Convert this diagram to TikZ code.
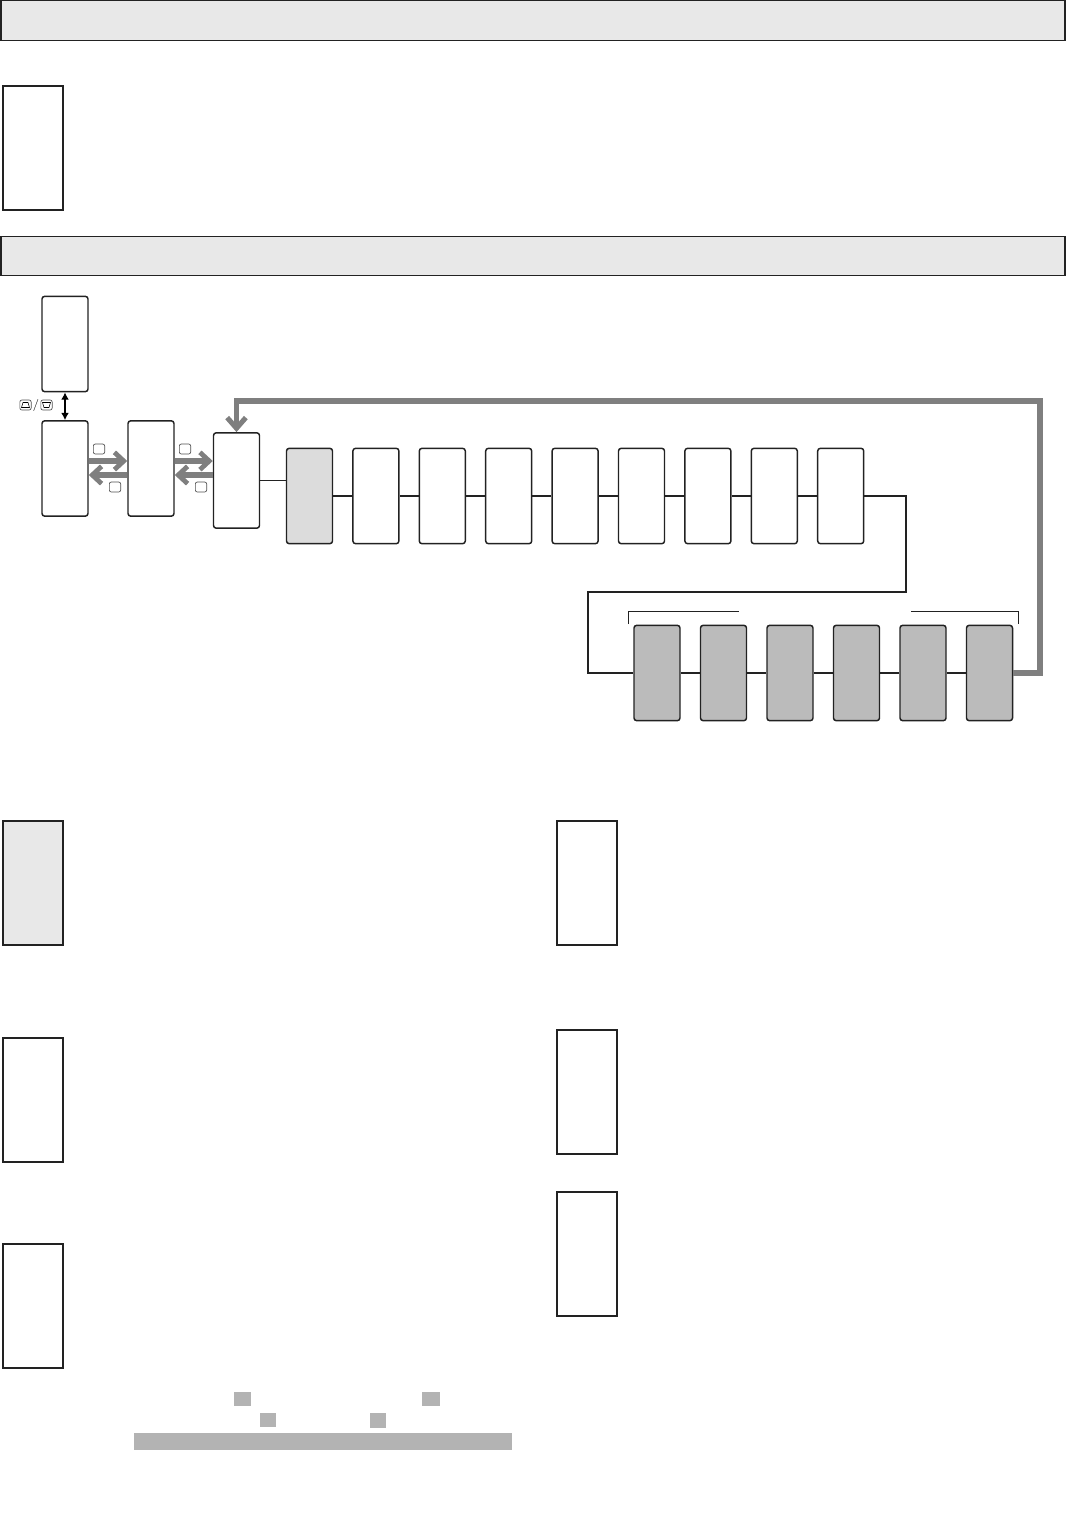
\documentclass[tikz,border=0pt]{standalone}
\usetikzlibrary{arrows.meta,calc}
\definecolor{hdrgray}{HTML}{E8E8E8}
\definecolor{lightfill}{HTML}{DCDCDC}
\definecolor{midfill}{HTML}{BBBBBB}
\definecolor{arrgray}{HTML}{7F7F7F}
\definecolor{bargray}{HTML}{B3B3B3}
\definecolor{edge}{HTML}{222222}
\begin{document}
\begin{tikzpicture}[x=0.75pt,y=-0.75pt,
  hdrbar/.style={draw=edge,line width=0.9pt,fill=hdrgray,minimum width=798pt,minimum height=29.5pt,inner sep=0pt},
  panel/.style={draw=edge,line width=1.5pt,minimum width=45pt,minimum height=93pt,inner sep=0pt},
  dev/.style={draw=edge,line width=1.1pt,rounded corners=2pt,minimum width=34.5pt,minimum height=71.5pt,inner sep=0pt,fill=white},
  key/.style={draw=edge!80,line width=0.5pt,rounded corners=1.5pt,minimum width=8.5pt,minimum height=7.5pt,inner sep=0pt},
  wire/.style={draw=edge,line width=1pt},
  thin/.style={draw=edge,line width=0.7pt},
  garrow/.style={draw=arrgray,line width=4pt,-{Straight Barb[length=7pt,width=13pt,line width=3.6pt]}},
  bigloop/.style={draw=arrgray,line width=4.3pt,miter limit=10,-{Straight Barb[length=8pt,width=14pt,line width=3.8pt]}},
  grayblock/.style={fill=bargray}
]
\useasboundingbox (0,0) rectangle (1066,1526);
% headers
\node[hdrbar] (h1) at (533,20.5) {};
\node[hdrbar] (h2) at (533,256) {};
% top panel
\node[panel] (p0) at (32.5,148.5) {};
% lower panels
\node[panel,fill=hdrgray] (p1) at (32.5,883) {};
\node[panel] (p2) at (32.5,1099.5) {};
\node[panel] (p3) at (32.5,1305.5) {};
\node[panel] (q1) at (586.5,883) {};
\node[panel] (q2) at (586.5,1091.5) {};
\node[panel] (q3) at (586.5,1253.5) {};
% device boxes left
\node[dev] (A) at (65,344) {};
\node[dev] (B) at (65,468.5) {};
\node[dev] (C) at (151,468.5) {};
\node[dev] (D) at (236.5,480.5) {};
\draw[line width=1pt,{Latex[length=5.5pt,width=6pt]}-{Latex[length=5.5pt,width=6pt]}] (A.south) -- (B.north);
% icon keys
\node[key] (u1) at (25.5,405) {};
\node[key] (u2) at (46.5,405) {};
\node[font=\small,inner sep=0pt] (sl) at (36,405) {/};
\draw[line width=0.4pt] (23,402.5) -- (28,402.5) -- (29.5,407.5) -- (21.5,407.5) -- cycle;
\draw[line width=0.4pt] (42.5,402.5) -- (50.5,402.5) -- (49,407.5) -- (44,407.5) -- cycle;
% gray arrows between B, C, D
\draw[garrow] ($(B.east)+(0,-7.5)$) -- ($(C.west)+(0,-7.5)$);
\draw[garrow] ($(C.west)+(0,6.5)$) -- ($(B.east)+(0,6.5)$);
\draw[garrow] ($(C.east)+(0,-7.5)$) -- ($(D.west)+(0,-19.5)$);
\draw[garrow] ($(D.west)+(0,-5.5)$) -- ($(C.east)+(0,6.5)$);
\node[key] (k1) at (99,449) {};
\node[key] (k2) at (115,487) {};
\node[key] (k3) at (185,449) {};
\node[key] (k4) at (201,487) {};
% first row
\node[dev,fill=lightfill] (r1) at (309.5,496) {};
\foreach \i/\x in {2/375.9,3/442.3,4/508.7,5/575.1,6/641.5,7/707.9,8/774.3,9/840.7}{
  \node[dev] (r\i) at (\x,496) {};
}
\draw[thin] (D.east) -- (D.east -| r1.west);
\foreach \i [evaluate=\i as \j using int(\i+1)] in {1,...,8}{
  \draw[wire] (r\i.east) -- (r\j.west);
}
% second row
\foreach \i/\x in {1/657,2/723.5,3/790,4/856.5,5/923,6/989.5}{
  \node[dev,fill=midfill] (s\i) at (\x,673) {};
}
\foreach \i [evaluate=\i as \j using int(\i+1)] in {1,...,5}{
  \draw[wire] (s\i.east) -- (s\j.west);
}
\coordinate (t1) at (906,592);
\coordinate (t2) at (588,592);
\draw[wire] (r9.east) -| (t1) -- (t2) |- (s1.west);
% brackets
\draw[thin] (628,624) -- (628,611.5) -- (739,611.5);
\draw[thin] (911,611.5) -- (1018,611.5) -- (1018,624);
% big loop
\coordinate (c1) at (1040,673);
\coordinate (c2) at (1040,401);
\coordinate (c3) at (236.5,401);
\draw[bigloop] (s6.east) -- (c1) -- (c2) -- (c3) -- (D.north);
% bottom gray blocks
\fill[grayblock] (234,1392) rectangle (251,1406);
\fill[grayblock] (422,1392) rectangle (440,1406);
\fill[grayblock] (260,1413) rectangle (276,1427);
\fill[grayblock] (370,1413) rectangle (386,1428);
\fill[grayblock] (134,1433) rectangle (512,1450);
\end{tikzpicture}
\end{document}
